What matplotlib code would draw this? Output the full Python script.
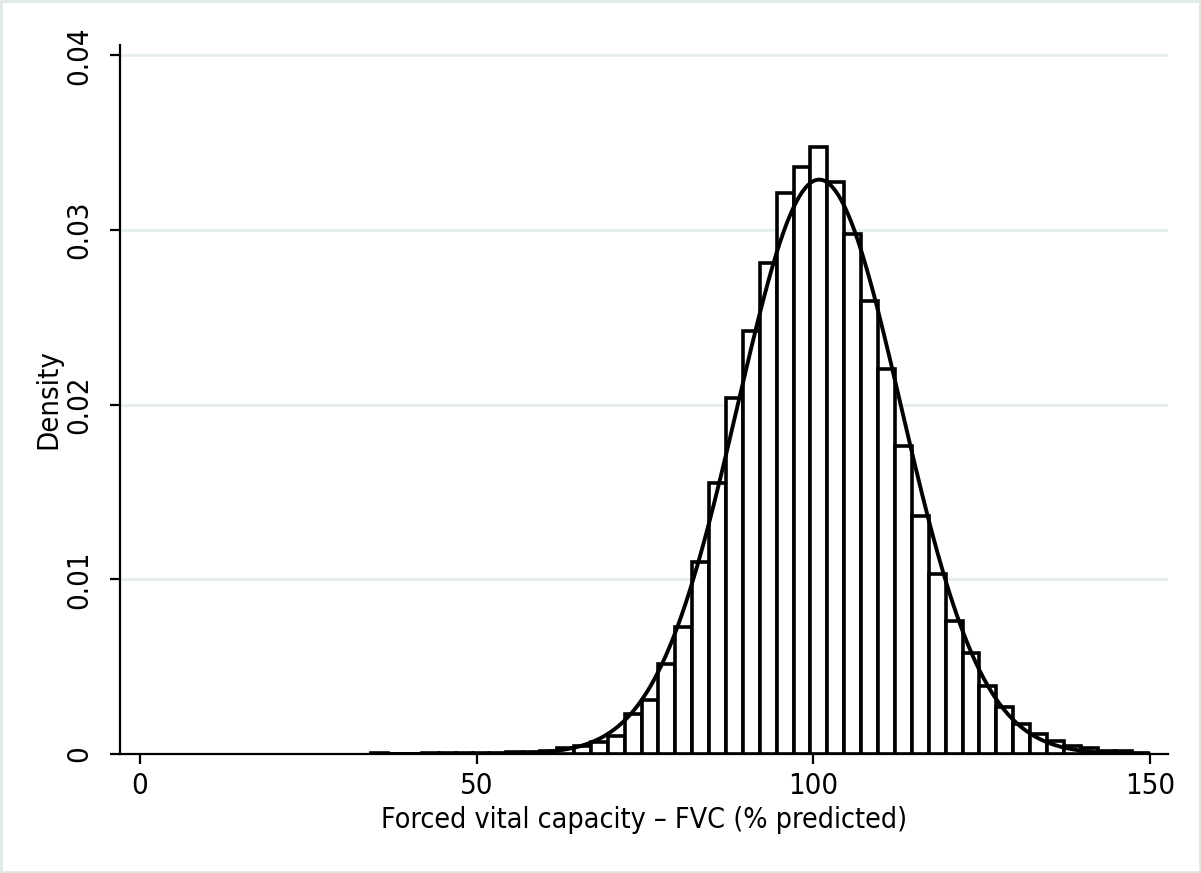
import numpy as np
import matplotlib
matplotlib.use("Agg")
import matplotlib.pyplot as plt
from matplotlib.patches import Rectangle

plt.rcParams['font.family'] = ['DejaVu Sans']
plt.rcParams['font.stretch'] = 'condensed'

# histogram data
bin_start = 34.34
bin_width = 2.51
density = [0.00003, 0.00002, 0.00002, 0.00003, 0.00004, 0.00005, 0.00006, 0.00008,
           0.00011, 0.00014, 0.00020, 0.00033, 0.00047, 0.00066, 0.00102, 0.00227,
           0.00307, 0.00517, 0.00727, 0.01097, 0.01551, 0.02036, 0.02420, 0.02814,
           0.03212, 0.03364, 0.03477, 0.03273, 0.02977, 0.02595, 0.02207, 0.01763,
           0.01362, 0.01032, 0.00760, 0.00578, 0.00392, 0.00269, 0.00174, 0.00114,
           0.00072, 0.00048, 0.00037, 0.00018, 0.00020, 0.00008]

# normal curve overlay
fvc_mean = 100.9
fvc_sd = 12.13

x_ticks = [0, 50, 100, 150]
y_ticks = [0, 0.01, 0.02, 0.03, 0.04]
y_ticklabels = ['0', '0.01', '0.02', '0.03', '0.04']

#------------------------------------------------------------------#
fig = plt.figure(figsize=(12.01, 8.73), dpi=100)
ax = fig.add_axes([0.0999, 0.1363, 0.8726, 0.8122])

lefts = bin_start + bin_width * np.arange(len(density))
ax.bar(lefts, density, width=bin_width, align='edge', color='white',
       edgecolor='black', linewidth=2.6, zorder=2)

xs = np.linspace(bin_start, bin_start + bin_width * len(density), 600)
ys = np.exp(-0.5 * ((xs - fvc_mean) / fvc_sd) ** 2) / (fvc_sd * np.sqrt(2 * np.pi))
ax.plot(xs, ys, color='black', linewidth=2.8, zorder=3)

ax.set_xlim(-2.97, 152.7)
ax.set_ylim(0, 0.0406)

for sp in ['top', 'right']:
    ax.spines[sp].set_visible(False)
for sp in ['left', 'bottom']:
    ax.spines[sp].set_linewidth(1.6)
    ax.spines[sp].set_zorder(4)

ax.set_xticks(x_ticks)
ax.set_yticks(y_ticks)
ax.set_yticklabels(y_ticklabels, rotation=90, va='center')
ax.tick_params(axis='both', direction='out', length=7, width=1.6, labelsize=21)
ax.tick_params(axis='y', pad=12)
ax.tick_params(axis='x', pad=6)

ax.yaxis.grid(True, color='#e6eeee', linewidth=2)
ax.set_axisbelow(True)

ax.set_xlabel('Forced vital capacity \u2013 FVC (% predicted)', fontsize=20.5, labelpad=4)
ax.set_ylabel('Density', fontsize=21, labelpad=2)

# light frame around the whole picture
fig.patches.append(Rectangle((0.001, 0.001), 0.998, 0.998, transform=fig.transFigure,
                             fill=False, edgecolor='#dfe8e8', linewidth=2))

fig.savefig('out.png', dpi=100)
